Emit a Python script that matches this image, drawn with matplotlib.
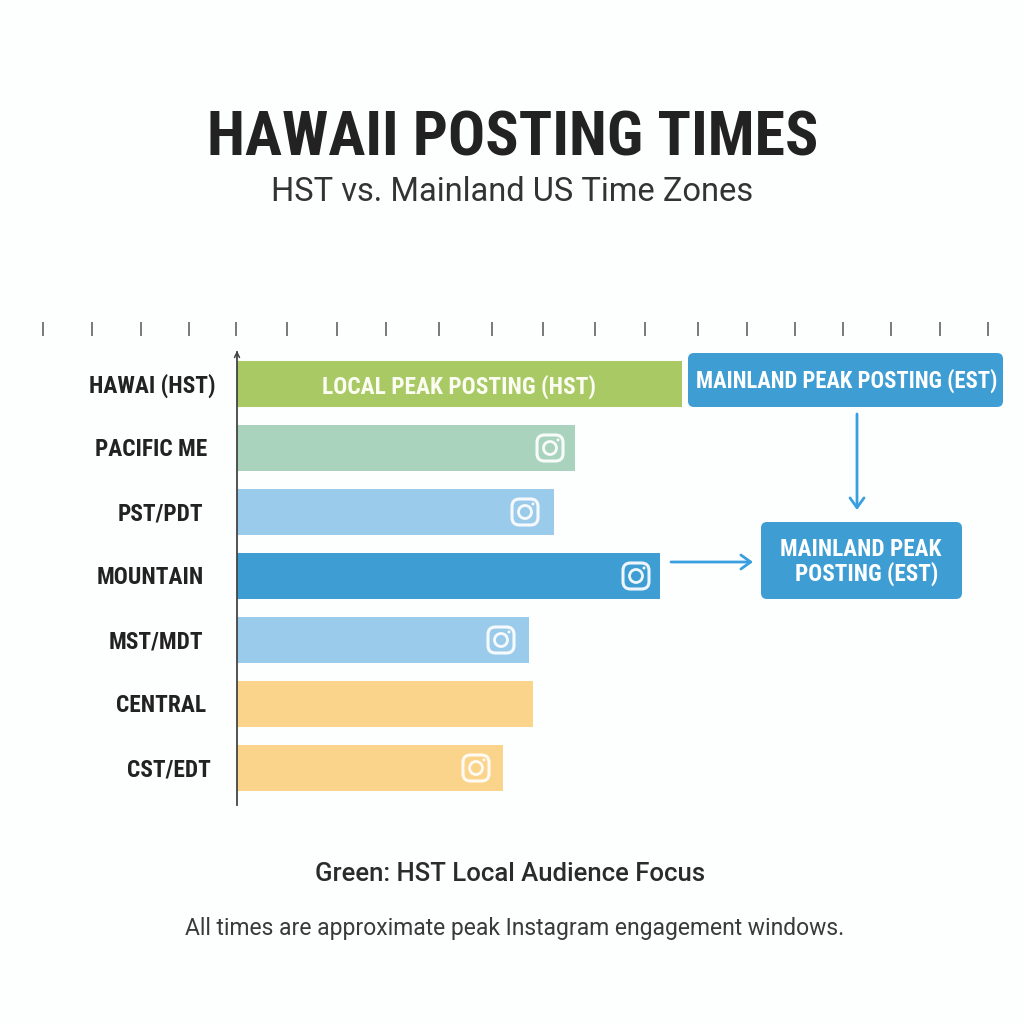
import matplotlib
matplotlib.use("Agg")
import matplotlib.pyplot as plt
from matplotlib.patches import FancyBboxPatch, Circle

# row labels, top to bottom
zones = ["HAWAI (HST)", "PACIFIC ME", "PST/PDT", "MOUNTAIN", "MST/MDT", "CENTRAL", "CST/EDT"]
# bar lengths (no unit on the chart, so image pixels)
lengths = [445, 338, 317, 423, 292, 296, 266]
colors = ["#a8c963", "#a9d3bd", "#9bcbea", "#3e9dd3", "#9bcbea", "#fad48a", "#fad48a"]
has_icon = [False, True, True, True, True, False, True]
tick_values = [-194, -145, -96, -48, -1, 50, 100, 149, 202, 255, 306, 358, 408, 461, 510, 558, 606, 654, 703, 751]

BG = "#fdfefe"
INK = "#222222"
BLUE = "#3e9dd3"
ARROW = "#3a9fe0"
NARROW = ["Roboto Condensed", "Roboto"]

fig = plt.figure(figsize=(10.24, 10.24), dpi=100, facecolor=BG)

# chart axes: x is the bar length, y the row index (rows are 64px apart, first at y=384)
ax = fig.add_axes([0, 0, 1, 1])
ax.set_xlim(-237, 787)
ax.set_ylim(10, -6)
ax.axis("off")
ax.barh(range(len(zones)), lengths, height=0.72, color=colors, linewidth=0, zorder=2)
ax.vlines(tick_values, -0.97, -0.75, color="#555555", lw=1.1)

# second layer in plain pixel coordinates for the annotations
ov = fig.add_axes([0, 0, 1, 1])
ov.set_xlim(0, 1024)
ov.set_ylim(1024, 0)
ov.axis("off")
ov.patch.set_alpha(0)

ov.plot([237, 237], [352, 805], color="#444444", lw=1.3, zorder=3)
ov.annotate("", xy=(237, 348), xytext=(237, 358),
            arrowprops=dict(arrowstyle="->", color="#444444", lw=1.1, mutation_scale=9))


def draw_icon(cx, cy):
    ov.add_patch(FancyBboxPatch((cx - 13, cy - 13), 26, 26, boxstyle="round,pad=0,rounding_size=7.5",
                                fc="none", ec="white", lw=2.2, alpha=0.92, zorder=4))
    ov.add_patch(Circle((cx, cy), 6.5, fc="none", ec="white", lw=2.0, alpha=0.92, zorder=4))
    ov.add_patch(Circle((cx + 8, cy - 8), 1.5, fc="white", ec="none", alpha=0.92, zorder=4))


icon_gaps = [0, 25, 29, 24, 28, 0, 27]
for i, show in enumerate(has_icon):
    if show:
        draw_icon(237 + lengths[i] - icon_gaps[i], 384 + 64 * i)

# row labels
label_x = [152, 151.5, 160, 150, 156, 161, 169]
for i, name in enumerate(zones):
    ov.text(label_x[i], 386 + 64 * i, name, ha="center", va="center", family=NARROW,
            fontweight="bold", fontsize=16.8, color=INK)

# titles and notes
ov.text(512.5, 139, "HAWAII POSTING TIMES", ha="center", va="center", family=NARROW,
        fontweight="bold", fontsize=44.6, color=INK)
ov.text(512, 192, "HST vs. Mainland US Time Zones", ha="center", va="center", family="Roboto",
        fontsize=23.5, color="#333333")
ov.text(510, 874, "Green: HST Local Audience Focus", ha="center", va="center", family="Roboto",
        fontweight="medium", fontsize=18.5, color="#2b2b2b")
ov.text(515, 929, "All times are approximate peak Instagram engagement windows.", ha="center", va="center",
        family="Roboto", fontsize=16.5, color="#3a3a3a")

ov.text(459, 387, "LOCAL PEAK POSTING (HST)", ha="center", va="center", family=NARROW,
        fontweight="bold", fontsize=16.8, color="#fbfdf2", zorder=4)

# callout boxes
ov.add_patch(FancyBboxPatch((688, 353), 315, 54, boxstyle="round,pad=0,rounding_size=6",
                            fc=BLUE, ec="none", zorder=3))
ov.text(847, 381, "MAINLAND PEAK POSTING (EST)", ha="center", va="center", family=NARROW,
        fontweight="bold", fontsize=16.3, color="white", zorder=4)
ov.add_patch(FancyBboxPatch((761, 522), 201, 77, boxstyle="round,pad=0,rounding_size=6",
                            fc=BLUE, ec="none", zorder=3))
ov.text(861, 549, "MAINLAND PEAK", ha="center", va="center", family=NARROW,
        fontweight="bold", fontsize=16.7, color="white", zorder=4)
ov.text(867, 574, "POSTING (EST)", ha="center", va="center", family=NARROW,
        fontweight="bold", fontsize=16.7, color="white", zorder=4)

# connector arrows
arrow_style = dict(arrowstyle="->,head_length=0.5,head_width=0.36", color=ARROW, lw=2,
                   mutation_scale=14, shrinkA=0, shrinkB=0)
ov.annotate("", xy=(857, 510), xytext=(857, 414), arrowprops=arrow_style)
ov.annotate("", xy=(753, 562), xytext=(671, 562), arrowprops=arrow_style)

fig.savefig("out.png", dpi=100, facecolor=BG)
